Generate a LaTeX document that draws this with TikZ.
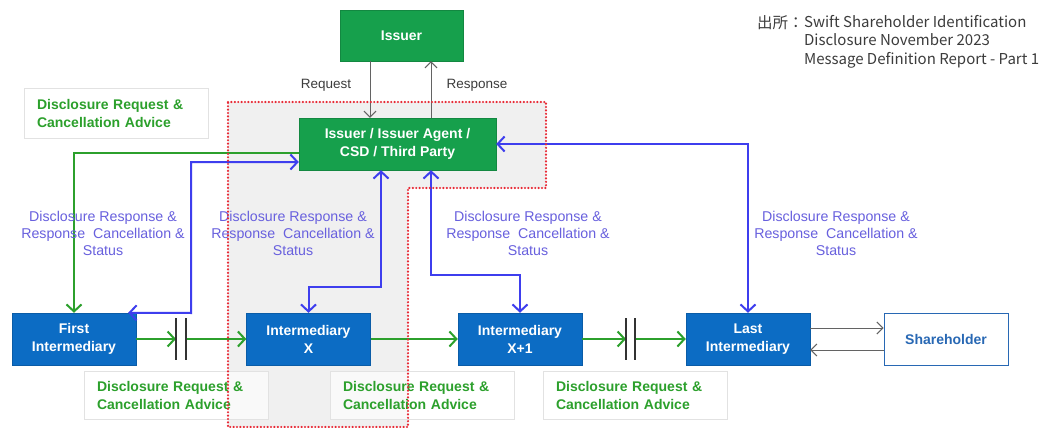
\documentclass[tikz,border=0pt]{standalone}
\usepackage{fontspec}
\setmainfont{Liberation Sans}
\newfontfamily\jpfont{Noto Sans CJK JP}
\usetikzlibrary{arrows.meta}

\definecolor{boxgreen}{RGB}{22,160,76}
\definecolor{boxblue}{RGB}{12,108,196}
\definecolor{holderblue}{RGB}{40,104,180}
\definecolor{lineblue}{RGB}{62,62,238}
\definecolor{textblue}{RGB}{104,96,222}
\definecolor{linegreen}{RGB}{44,160,44}
\definecolor{areagray}{RGB}{240,240,240}
\definecolor{notegray}{RGB}{226,226,226}
\definecolor{srcgray}{RGB}{60,60,60}
\definecolor{dotred}{RGB}{232,40,52}

\tikzset{
  boxfont/.style={font=\fontsize{14}{18}\selectfont\bfseries},
  gbox/.style={boxfont, fill=boxgreen, draw=boxgreen!85!black, text=white, align=center, minimum height=52pt},
  ibox/.style={boxfont, fill=boxblue, draw=boxblue!85!black, text=white, align=center, minimum width=124pt, minimum height=52pt},
  hbox/.style={boxfont, fill=white, draw=holderblue, line width=1pt, text=holderblue, minimum width=124pt, minimum height=52pt},
  notebox/.style={draw=notegray, line width=1pt, fill=white, fill opacity=0.6, text opacity=1, text=linegreen, font=\fontsize{14}{18}\selectfont\bfseries, align=left, text width=158pt, inner xsep=13pt, minimum height=48pt},
  resptext/.style={text=textblue, align=center, font=\fontsize{14.2}{17}\selectfont},
  msgtext/.style={text=srcgray, font=\fontsize{13.5}{16}\selectfont},
  resp/.style={lineblue, line width=2pt, {Straight Barb[length=7pt,width=15pt]}-{Straight Barb[length=7pt,width=15pt]}},
  req/.style={linegreen, line width=2pt, -{Straight Barb[length=7pt,width=15pt]}},
  msg/.style={srcgray!80, line width=1pt, -{Straight Barb[length=6pt,width=12pt]}},
  brk/.style={black!80, line width=1.5pt},
  dotline/.style={dotred, line width=2.4pt, line cap=round, dash pattern=on 0pt off 3.4pt},
}

\begin{document}
\begin{tikzpicture}[x=1pt, y=-1pt]

% Canvas
\fill[white] (0,0) rectangle (1061,428);
\useasboundingbox (0,0) rectangle (1061,428);

% Gray area
\fill[areagray] (228,102) -- (546,102) -- (546,188) -- (408,188) -- (408,427) -- (228,427) -- cycle;

% Note boxes (green)
\node[notebox, minimum height=49pt] (noteTop) at (116,113.5) {Disclosure Request \&\\Cancellation Advice};
\node[notebox] (noteA) at (176,395) {Disclosure Request \&\\Cancellation Advice};
\node[notebox] (noteB) at (422,395) {Disclosure Request \&\\Cancellation Advice};
\node[notebox] (noteC) at (635,395) {Disclosure Request \&\\Cancellation Advice};

% Boxes
\node[gbox, minimum width=123pt, minimum height=51pt] (issuer) at (401.5,35.5) {Issuer};
\node[gbox, minimum width=197pt] (agent) at (397.5,144) {Issuer / Issuer Agent /\\CSD / Third Party};
\node[ibox] (first) at (74,339) {First\\Intermediary};
\node[ibox] (interX) at (308.5,339) {Intermediary\\X};
\node[ibox] (interXp) at (520,339) {Intermediary\\X+1};
\node[ibox] (last) at (748,339) {Last\\Intermediary};
\node[hbox] (holder) at (946,339) {Shareholder};

% Issuer messages
\draw[msg] ([xshift=-31.5pt]issuer.south) -- ([xshift=-27.5pt]agent.north);
\draw[msg] ([xshift=33.5pt]agent.north) -- ([xshift=29.5pt]issuer.south);
\node[msgtext] (reqLbl) at (326,85) {Request};
\node[msgtext] (respLbl) at (477,85) {Response};

% Shareholder messages
\draw[msg] ([yshift=11pt]last.east) -- ([yshift=11pt]holder.west);
\draw[msg] ([yshift=-11pt]holder.west) -- ([yshift=-11pt]last.east);

% Requests (green)
\draw[req] ([yshift=-9pt]agent.west) -| (first.north);
\coordinate (brkA) at (176,339);
\coordinate (brkB) at (186,339);
\draw[req] (first.east) -- (brkA);
\draw[req] (brkB) -- (interX.west);
\draw[brk] ([yshift=21pt]brkA) -- ([yshift=-21pt]brkA);
\draw[brk] ([yshift=21pt]brkB) -- ([yshift=-21pt]brkB);
\draw[req] (interX.east) -- (interXp.west);
\coordinate (brkC) at (626,339);
\coordinate (brkD) at (635,339);
\draw[req] (interXp.east) -- (brkC);
\draw[req] (brkD) -- (last.west);
\draw[brk] ([yshift=21pt]brkC) -- ([yshift=-21pt]brkC);
\draw[brk] ([yshift=21pt]brkD) -- ([yshift=-21pt]brkD);

% Responses (blue)
\coordinate (firstBend) at (191,313);
\coordinate (xLevel) at (0,287);
\coordinate (xpLevel) at (0,275);
\draw[resp] ([xshift=-8pt]first.north east) -- (firstBend) |- ([yshift=-18pt]agent.west);
\draw[resp] (interX.north) -- (interX.north |- xLevel) -| ([xshift=-16.5pt]agent.south);
\draw[resp] (interXp.north) -- (interXp.north |- xpLevel) -| ([xshift=33.5pt]agent.south);
\draw[resp] (last.north) |- (agent.east);

% Response labels
\node[resptext] (respA) at (103,233) {Disclosure Response \&\\Response~ Cancellation \&\\Status};
\node[resptext] (respB) at (293,233) {Disclosure Response \&\\Response~ Cancellation \&\\Status};
\node[resptext] (respC) at (528,233) {Disclosure Response \&\\Response~ Cancellation \&\\Status};
\node[resptext] (respD) at (836,233) {Disclosure Response \&\\Response~ Cancellation \&\\Status};

% Red dotted outline
\draw[dotline] (228,102) -- (546,102) -- (546,188) -- (408,188) -- (408,427) -- (228,427) -- cycle;

% Source
\node[msgtext, font=\jpfont\fontsize{15.5}{18.5}\selectfont, anchor=north west, inner sep=0pt] (srcTag) at (757,15) {出所：};
\node[msgtext, font=\jpfont\fontsize{15}{18.5}\selectfont, anchor=north west, inner sep=0pt, align=left] (srcText) at (srcTag.north east) {Swift Shareholder Identification\\Disclosure November 2023\\Message Definition Report - Part 1};

\end{tikzpicture}
\end{document}
